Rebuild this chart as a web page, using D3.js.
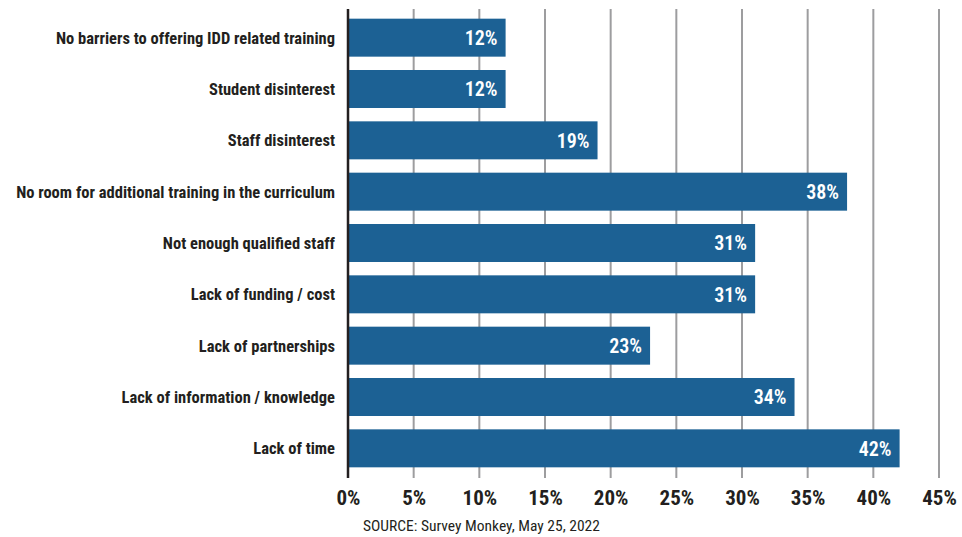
<!DOCTYPE html>
<html>
<head>
<meta charset="utf-8">
<script src="https://cdn.jsdelivr.net/npm/d3@7"></script>
<style>
  body { margin: 0; background: #fff; }
  text { font-family: "Liberation Sans Narrow", "Roboto Condensed", "Arial Narrow", sans-serif; }
</style>
</head>
<body>
<div id="chart"></div>
<script>
// barriers to offering IDD training
let categories = [
    "No barriers to offering IDD related training",
    "Student disinterest",
    "Staff disinterest",
    "No room for additional training in the curriculum",
    "Not enough qualified staff",
    "Lack of funding / cost",
    "Lack of partnerships",
    "Lack of information / knowledge",
    "Lack of time"
];
let values = [12, 12, 19, 38, 31, 31, 23, 34, 42];
let ticks = [0, 5, 10, 15, 20, 25, 30, 35, 40, 45];
let source = "SOURCE: Survey Monkey, May 25, 2022";

let width = 962, height = 537;
let margin = {top: 9, right: 23, bottom: 59, left: 348};

let svg = d3.select("#chart").append("svg")
    .attr("width", width)
    .attr("height", height);

let x = d3.scaleLinear()
    .domain([0, 45])
    .range([margin.left, width - margin.right]);

let y = d3.scaleBand()
    .domain(categories)
    .range([margin.top + 3, height - margin.bottom - 4])
    .paddingInner(0.26)
    .paddingOuter(0.13);

// gridlines
svg.append("g")
    .selectAll("line")
    .data(ticks.slice(1))
    .join("line")
    .attr("x1", d => x(d))
    .attr("x2", d => x(d))
    .attr("y1", margin.top)
    .attr("y2", height - margin.bottom)
    .attr("stroke", "#9d9d9f")
    .attr("stroke-width", 2);

// bars
svg.append("g")
    .selectAll("rect")
    .data(values)
    .join("rect")
    .attr("x", x(0))
    .attr("y", (d, i) => y(categories[i]))
    .attr("width", d => x(d) - x(0))
    .attr("height", y.bandwidth())
    .attr("fill", "#1c6194");

// value labels
svg.append("g")
    .selectAll("text")
    .data(values)
    .join("text")
    .attr("x", d => x(d) - 8)
    .attr("y", (d, i) => y(categories[i]) + y.bandwidth() / 2)
    .attr("dy", "0.36em")
    .attr("text-anchor", "end")
    .attr("fill", "#fff")
    .style("font-size", "20px")
    .style("font-weight", "600")
    .text(d => d + "%");

// category labels
svg.append("g")
    .selectAll("text")
    .data(categories)
    .join("text")
    .attr("x", margin.left - 13)
    .attr("y", d => y(d) + y.bandwidth() / 2)
    .attr("dy", "0.36em")
    .attr("text-anchor", "end")
    .attr("fill", "#231f20")
    .style("font-size", "16.5px")
    .style("font-weight", "bold")
    .text(d => d);

// x axis
let xAxis = d3.axisBottom(x)
    .tickValues(ticks)
    .tickSize(0)
    .tickPadding(12)
    .tickFormat(d => d + "%");

let gx = svg.append("g")
    .attr("transform", "translate(0," + (height - margin.bottom) + ")")
    .call(xAxis);
gx.select(".domain").remove();
gx.selectAll("text")
    .attr("fill", "#231f20")
    .style("font-size", "21px")
    .style("font-weight", "bold")
    .style("font-family", "\"Liberation Sans Narrow\", \"Roboto Condensed\", sans-serif");

// y axis line
svg.append("line")
    .attr("x1", x(0))
    .attr("x2", x(0))
    .attr("y1", margin.top)
    .attr("y2", height - margin.bottom)
    .attr("stroke", "#231f20")
    .attr("stroke-width", 2.5);

// source
svg.append("text")
    .attr("x", 363)
    .attr("y", 531)
    .attr("fill", "#231f20")
    .style("font-size", "15.5px")
    .text(source);
</script>
</body>
</html>
